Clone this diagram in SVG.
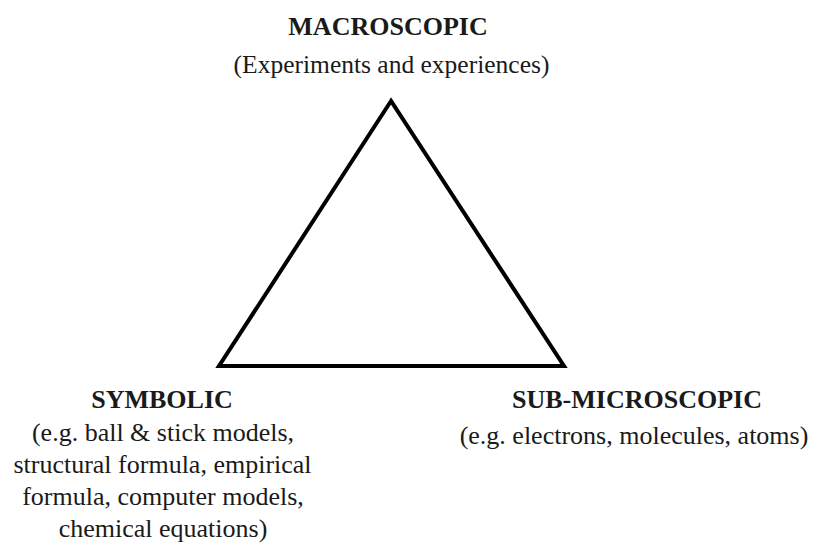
<svg xmlns="http://www.w3.org/2000/svg" width="814" height="544" viewBox="0 0 814 544">
<style>
.t{font-family:"Liberation Serif","Times New Roman",serif;fill:#1a1a1a;text-anchor:middle}
.h{font-weight:bold;font-size:26px}
.s{font-size:26px}
</style>
<rect width="814" height="544" fill="#fff"/>
<g id="connectors">
<polygon points="391,101 219,366 564,366" fill="none" stroke="#000" stroke-width="4" stroke-linejoin="miter"/>
</g>
<g id="macroscopic">
<text class="t h" x="388" y="35">MACROSCOPIC</text>
<text class="t s" x="391.5" y="73" style="font-size:25.5px">(Experiments and experiences)</text>
</g>
<g id="symbolic">
<text class="t h" x="162" y="408">SYMBOLIC</text>
<text class="t s" x="163" y="441">(e.g. ball &amp; stick models,</text>
<text class="t s" x="162.5" y="473">structural formula, empirical</text>
<text class="t s" x="163" y="505">formula, computer models,</text>
<text class="t s" x="163" y="537">chemical equations)</text>
</g>
<g id="submicroscopic">
<text class="t h" x="637" y="408">SUB-MICROSCOPIC</text>
<text class="t s" x="634" y="444">(e.g. electrons, molecules, atoms)</text>
</g>
</svg>
